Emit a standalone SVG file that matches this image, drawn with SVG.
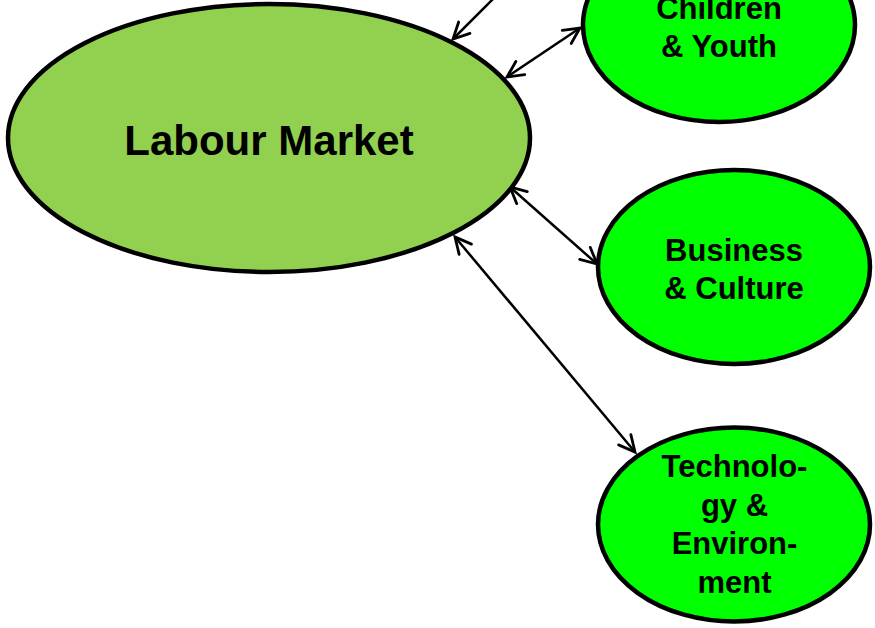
<svg xmlns="http://www.w3.org/2000/svg" width="875" height="628" viewBox="0 0 875 628">
<defs>
<style>
.node{stroke:#000;stroke-width:4.5}
.lm{fill:#92D050}
.sub{fill:#00FF00}
text{font-family:"Liberation Sans",Arial,sans-serif;font-weight:bold;fill:#000;text-anchor:middle}
.big{font-size:42px}
.small{font-size:31px}
.conn{stroke:#000;stroke-width:2.5;fill:none}
</style>
<marker id="ah" markerUnits="userSpaceOnUse" viewBox="-20 -12 24 24" refX="0" refY="0" markerWidth="24" markerHeight="24" orient="auto-start-reverse">
<path d="M-16,-8 L0,0 L-16,8" fill="none" stroke="#000" stroke-width="2.8" stroke-linecap="round" stroke-linejoin="miter"/>
</marker>
</defs>
<rect width="875" height="628" fill="#fff"/>
<g id="connectors">
<line class="conn" x1="505" y1="-13" x2="453" y2="39" marker-end="url(#ah)"/>
<line class="conn" x1="507" y1="77" x2="580" y2="28" marker-start="url(#ah)" marker-end="url(#ah)"/>
<line class="conn" x1="510" y1="187" x2="597" y2="264" marker-start="url(#ah)" marker-end="url(#ah)"/>
<line class="conn" x1="455" y1="237" x2="635" y2="452" marker-start="url(#ah)" marker-end="url(#ah)"/>
</g>
<g id="labour-market">
<ellipse class="node lm" cx="269" cy="138" rx="261" ry="134"/>
<text class="big" x="269" y="155">Labour Market</text>
</g>
<g id="children-youth">
<ellipse class="node sub" cx="719" cy="25" rx="136" ry="97"/>
<text class="small" x="719" y="19">Children</text>
<text class="small" x="719" y="57">&amp; Youth</text>
</g>
<g id="business-culture">
<ellipse class="node sub" cx="734" cy="267" rx="136" ry="97"/>
<text class="small" x="734" y="261">Business</text>
<text class="small" x="734" y="299">&amp; Culture</text>
</g>
<g id="technology-environment">
<ellipse class="node sub" cx="734" cy="524.5" rx="136" ry="97"/>
<text class="small" x="734.5" y="477">Technolo-</text>
<text class="small" x="734.5" y="515.5">gy &amp;</text>
<text class="small" x="734.5" y="554">Environ-</text>
<text class="small" x="734.5" y="592.5">ment</text>
</g>
</svg>
